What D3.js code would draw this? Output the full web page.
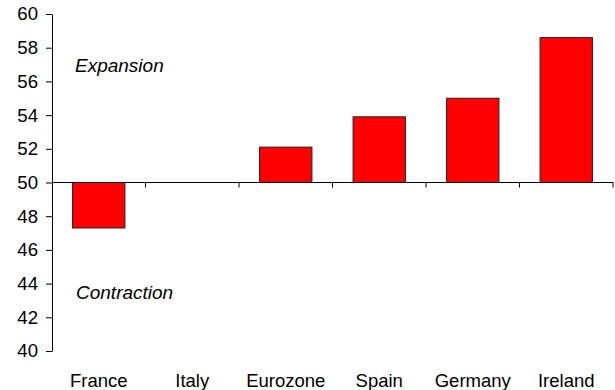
<!DOCTYPE html>
<html><head><meta charset="utf-8">
<script src="https://cdn.jsdelivr.net/npm/d3@7"></script>
<style>
body{margin:0;background:#fff;}
svg{display:block;font-family:"Liberation Sans",Arial,sans-serif;}
</style></head>
<body>
<svg id="c" width="615" height="390"></svg>
<script>
const categories = ["France","Italy","Eurozone","Spain","Germany","Ireland"];
const values = [47.3, 50.0, 52.1, 53.9, 55.0, 58.6];
const yTicks = [40,42,44,46,48,50,52,54,56,58,60];
const baseline = 50;
const annotations = ["Expansion","Contraction"];

(function(){
const svg = d3.select("#c");
const mLeft = 52, mRight = 613, mTop = 14, mBottom = 351;

const y = d3.scaleLinear().domain([40,60]).range([mBottom, mTop]);
const x = d3.scaleBand().domain(categories).range([mLeft, mRight]).paddingInner(0.44).paddingOuter(0.22);

// y axis
const yAxis = d3.axisLeft(y).tickValues(yTicks).tickSize(6).tickSizeOuter(0).tickPadding(8).tickFormat(d3.format("d"));
const gy = svg.append("g").attr("transform", `translate(${mLeft},0)`).call(yAxis);
gy.select(".domain").attr("stroke","#000").attr("stroke-width",1);
gy.selectAll(".tick line").attr("stroke","#000");
gy.selectAll(".tick text").attr("font-size",18.6).attr("fill","#000").attr("font-family","Liberation Sans, Arial, sans-serif");

// bars
svg.append("g").selectAll("rect").data(values).join("rect")
  .attr("x", (d,i) => x(categories[i]))
  .attr("width", x.bandwidth())
  .attr("y", d => Math.min(y(d), y(baseline)))
  .attr("height", d => Math.abs(y(d) - y(baseline)))
  .attr("fill", "#ff0000")
  .attr("stroke", "#222")
  .attr("stroke-width", 1);

// x axis at baseline
const step = x.step();
const boundaries = categories.map((c,i) => mLeft + step*(i+1));
const gx = svg.append("g");
gx.append("line").attr("x1", mLeft).attr("x2", mRight).attr("y1", y(baseline)).attr("y2", y(baseline)).attr("stroke","#000");
gx.selectAll("line.t").data(boundaries).join("line").attr("class","t")
  .attr("x1", d => d).attr("x2", d => d)
  .attr("y1", y(baseline)).attr("y2", y(baseline)+5).attr("stroke","#000");

// category labels
svg.append("g").selectAll("text").data(categories).join("text")
  .attr("x", d => x(d) + x.bandwidth()/2)
  .attr("y", 386.5)
  .attr("text-anchor","middle")
  .attr("font-size",18.5)
  .attr("fill","#000")
  .text(d => d);

// annotations
svg.append("text").attr("x",75).attr("y",72).attr("font-size",19).attr("font-style","italic").attr("fill","#000").text(annotations[0]);
svg.append("text").attr("x",76).attr("y",299).attr("font-size",19).attr("font-style","italic").attr("fill","#000").text(annotations[1]);
})();
</script>
</body></html>
